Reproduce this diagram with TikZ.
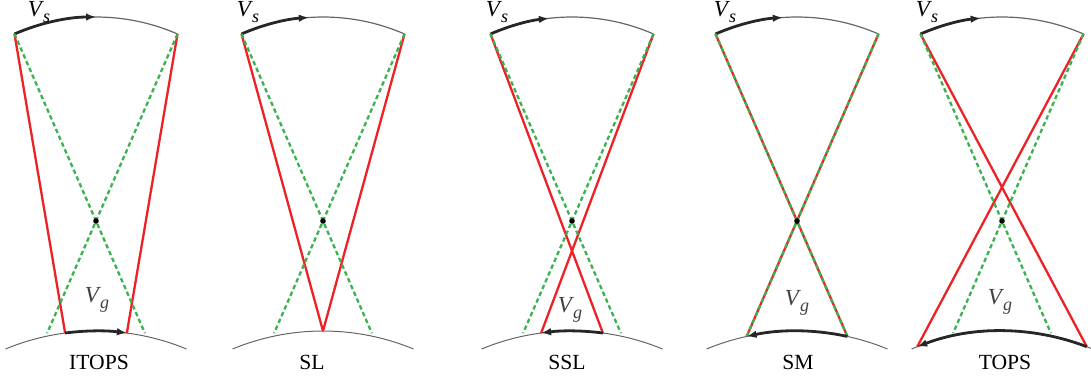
\documentclass[tikz,border=0pt]{standalone}
\usepackage{fontspec}
\setmainfont{Liberation Serif}
\usetikzlibrary{arrows.meta,calc}

\definecolor{beamred}{RGB}{236,34,39}
\definecolor{beamgreen}{RGB}{58,178,78}
\newcommand{\vel}[1]{\textit{V}\kern-0.4pt\raisebox{-0.55ex}{\small\textit{#1}}}

\begin{document}
\begin{tikzpicture}[
        x=0.5pt, y=0.5pt,
        redBeam/.style={
            draw=beamred,
            line width=1.15pt
        },
        greenBeam/.style={
            draw=beamgreen,
            line width=1.15pt,
            dash pattern=on 2.2pt off 1.5pt
        },
        orbitArc/.style={
            draw=black!60,
            line width=0.6pt
        },
        groundArc/.style={
            draw=black!60,
            line width=0.5pt
        },
        motion/.style={
            -{Latex[length=5pt,width=3.8pt]},
            line width=1.4pt,
            draw=black!85
        },
        velText/.style={
            font=\fontsize{11.5}{12}\selectfont,
            inner sep=0pt
        },
        modeText/.style={
            font=\fontsize{10.8}{12}\selectfont,
            inner sep=0pt,
            anchor=base
        }
    ]

        % Frame
        \useasboundingbox (0,0) rectangle (1091,379);

        % Orbit, ground and beam centre of every panel
        \foreach \i/\cx/\ta/\gf in {1/96/90/1.6, 2/323/94/1.6, 3/572/96.5/1.6, 4/797/94/1.617, 5/1002/96/1.6}
        {
            \coordinate (c\i) at (\cx,158);
            \coordinate (g\i) at (\cx,-188.5);
            \coordinate (sL\i) at ($(c\i)+(113.55:204)$);
            \coordinate (sR\i) at ($(c\i)+(66.45:204)$);
            \coordinate (eL\i) at ($(sR\i)!\gf!(c\i)$);
            \coordinate (eR\i) at ($(sL\i)!\gf!(c\i)$);

            \draw[groundArc] ($(g\i)+(112.5:236.5)$)
                arc[start angle=112.5, end angle=67.5, radius=236.5];
            \draw[orbitArc] (sL\i)
                arc[start angle=113.55, end angle=66.45, radius=204];
            \draw[motion] (sL\i)
                arc[start angle=113.55, end angle=\ta, radius=204];
        }

        % Ground points hit by the red beams
        \coordinate (rL1) at ($(g1)+(97.5:236.5)$);
        \coordinate (rR1) at ($(g1)+(82.5:236.5)$);
        \coordinate (rM2) at ($(g2)+(90:236.5)$);
        \coordinate (rL3) at ($(g3)+(97.5:236.5)$);
        \coordinate (rR3) at ($(g3)+(82.5:236.5)$);
        \coordinate (rL4) at ($(g4)+(102.3:236.5)$);
        \coordinate (rR4) at ($(g4)+(77.7:236.5)$);
        \coordinate (rL5) at ($(g5)+(111:236.5)$);
        \coordinate (rR5) at ($(g5)+(69:236.5)$);

        % Red beams
        \draw[redBeam] (sL1) -- (rL1);
        \draw[redBeam] (sR1) -- (rR1);
        \draw[redBeam] (sL2) -- (rM2);
        \draw[redBeam] (sR2) -- (rM2);
        \draw[redBeam] (sL3) -- (rR3);
        \draw[redBeam] (sR3) -- (rL3);
        \draw[redBeam] (sL4) -- (rR4);
        \draw[redBeam] (sR4) -- (rL4);
        \draw[redBeam] (sL5) -- (rR5);
        \draw[redBeam] (sR5) -- (rL5);

        % Green beams through the centre
        \foreach \i in {1,...,5}
        {
            \draw[greenBeam] (sL\i) -- (eR\i);
            \draw[greenBeam] (sR\i) -- (eL\i);
            \fill (c\i) circle[radius=1.4pt];
        }

        % Footprint motion on the ground
        \draw[motion] (rL1) arc[start angle=97.5, end angle=82.5, radius=236.5];
        \draw[motion] (rR3) arc[start angle=82.5, end angle=97.5, radius=236.5];
        \draw[motion] (rR4) arc[start angle=77.7, end angle=102.3, radius=236.5];
        \draw[motion] (rR5) arc[start angle=69, end angle=111, radius=236.5];

        % Velocity labels
        \node[velText] (vs1) at (39,367) {\vel{s}};
        \node[velText] (vs2) at (248,367) {\vel{s}};
        \node[velText] (vs3) at (497,367) {\vel{s}};
        \node[velText] (vs4) at (725,367) {\vel{s}};
        \node[velText] (vs5) at (927,367) {\vel{s}};

        \node[velText, text=black!75] (vg1) at (97,79) {\vel{g}};
        \node[velText, text=black!75] (vg3) at (570,69) {\vel{g}};
        \node[velText, text=black!75] (vg4) at (797,76) {\vel{g}};
        \node[velText, text=black!75] (vg5) at (1000,77) {\vel{g}};

        % Mode names
        \node[modeText] (mode1) at (99,9) {ITOPS};
        \node[modeText] (mode2) at (312,9) {SL};
        \node[modeText] (mode3) at (567,9) {SSL};
        \node[modeText] (mode4) at (798,9) {SM};
        \node[modeText] (mode5) at (1005,9) {TOPS};

    \end{tikzpicture}
\end{document}
